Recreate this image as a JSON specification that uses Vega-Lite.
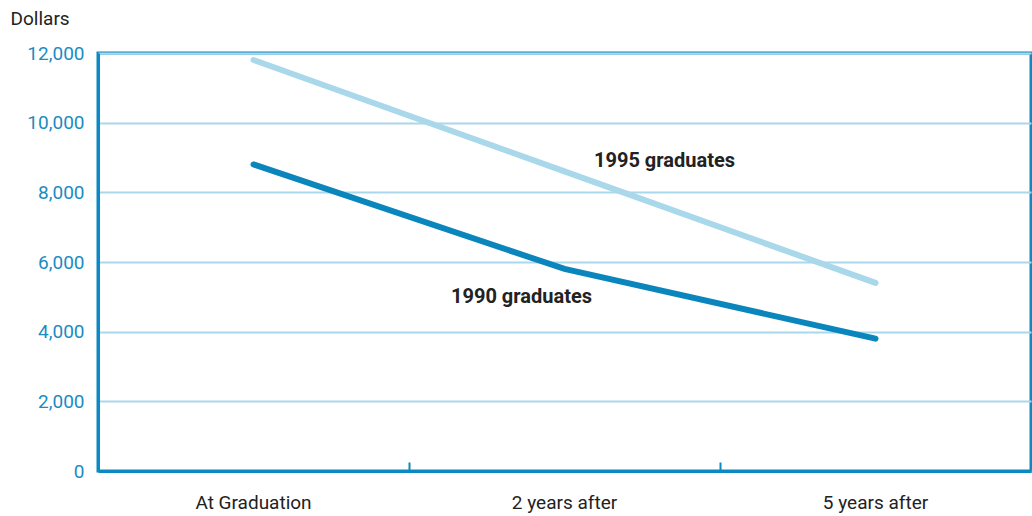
{
  "$schema": "https://vega.github.io/schema/vega-lite/v6.json",
  "width": 933,
  "height": 418,
  "autosize": {"type": "none"},
  "padding": {"left": 98, "top": 53, "right": 1, "bottom": 45},
  "background": "white",
  "config": {
    "font": "Roboto, sans-serif",
    "view": {"stroke": "#0a89c2", "strokeWidth": 3}
  },
  "datasets": {
    "lines": [
      {"period": "At Graduation", "group": "1995 graduates", "dollars": 11800},
      {"period": "2 years after", "group": "1995 graduates", "dollars": 8600},
      {"period": "5 years after", "group": "1995 graduates", "dollars": 5400},
      {"period": "At Graduation", "group": "1990 graduates", "dollars": 8800},
      {"period": "2 years after", "group": "1990 graduates", "dollars": 5800},
      {"period": "5 years after", "group": "1990 graduates", "dollars": 3800}
    ],
    "labels": [
      {"period": "2 years after", "group": "1995 graduates", "dollars": 8900},
      {"period": "2 years after", "group": "1990 graduates", "dollars": 5000}
    ]
  },
  "resolve": {"axis": {"x": "independent"}},
  "layer": [
    {
      "data": {"name": "lines"},
      "mark": {"type": "line", "strokeWidth": 0, "opacity": 0},
      "encoding": {
        "x": {
          "field": "period",
          "type": "nominal",
          "sort": ["At Graduation", "2 years after", "5 years after"],
          "scale": {"type": "band", "paddingInner": 0, "paddingOuter": 0},
          "axis": {
            "orient": "bottom",
            "title": null,
            "labels": false,
            "bandPosition": 0,
            "ticks": true,
            "tickSize": -9,
            "tickWidth": 2,
            "tickColor": "#0a89c2",
            "domainColor": "#0a89c2",
            "domainWidth": 3,
            "grid": false
          }
        },
        "y": {
          "field": "dollars",
          "type": "quantitative",
          "scale": {"domain": [0, 12000], "nice": false},
          "axis": {
            "title": "Dollars",
            "titleAngle": 0,
            "titleAlign": "left",
            "titleBaseline": "middle",
            "titleX": -88,
            "titleY": -35,
            "titleFontSize": 19,
            "titleFontWeight": "normal",
            "titleColor": "#222222",
            "values": [0, 2000, 4000, 6000, 8000, 10000, 12000],
            "format": ",d",
            "labelFontSize": 19,
            "labelColor": "#1a8cc2",
            "labelPadding": 14,
            "ticks": false,
            "domainColor": "#0a89c2",
            "domainWidth": 3,
            "grid": true,
            "gridColor": "#a9d8ec",
            "gridWidth": 2,
            "gridOpacity": 1
          }
        }
      }
    },
    {
      "data": {"name": "lines"},
      "mark": {"type": "line", "strokeWidth": 6, "strokeCap": "round"},
      "encoding": {
        "x": {
          "field": "period",
          "type": "nominal",
          "sort": ["At Graduation", "2 years after", "5 years after"],
          "axis": {
            "orient": "bottom",
            "title": null,
            "labelAngle": 0,
            "labelFontSize": 19,
            "labelColor": "#222222",
            "labelPadding": 22,
            "ticks": false,
            "domain": false,
            "grid": false
          }
        },
        "y": {"field": "dollars", "type": "quantitative"},
        "color": {
          "field": "group",
          "type": "nominal",
          "scale": {"domain": ["1995 graduates", "1990 graduates"], "range": ["#a8d8ea", "#0a86bd"]},
          "legend": null
        }
      }
    },
    {
      "data": {"name": "labels"},
      "transform": [{"filter": "datum.group == '1995 graduates'"}],
      "mark": {"type": "text", "fontSize": 20, "fontWeight": "bold", "color": "#222222", "baseline": "middle", "align": "center", "dx": 100},
      "encoding": {
        "x": {"field": "period", "type": "nominal", "sort": ["At Graduation", "2 years after", "5 years after"], "axis": null},
        "y": {"field": "dollars", "type": "quantitative"},
        "text": {"field": "group"}
      }
    },
    {
      "data": {"name": "labels"},
      "transform": [{"filter": "datum.group == '1990 graduates'"}],
      "mark": {"type": "text", "fontSize": 20, "fontWeight": "bold", "color": "#222222", "baseline": "middle", "align": "center", "dx": -43},
      "encoding": {
        "x": {"field": "period", "type": "nominal", "sort": ["At Graduation", "2 years after", "5 years after"], "axis": null},
        "y": {"field": "dollars", "type": "quantitative"},
        "text": {"field": "group"}
      }
    }
  ]
}
